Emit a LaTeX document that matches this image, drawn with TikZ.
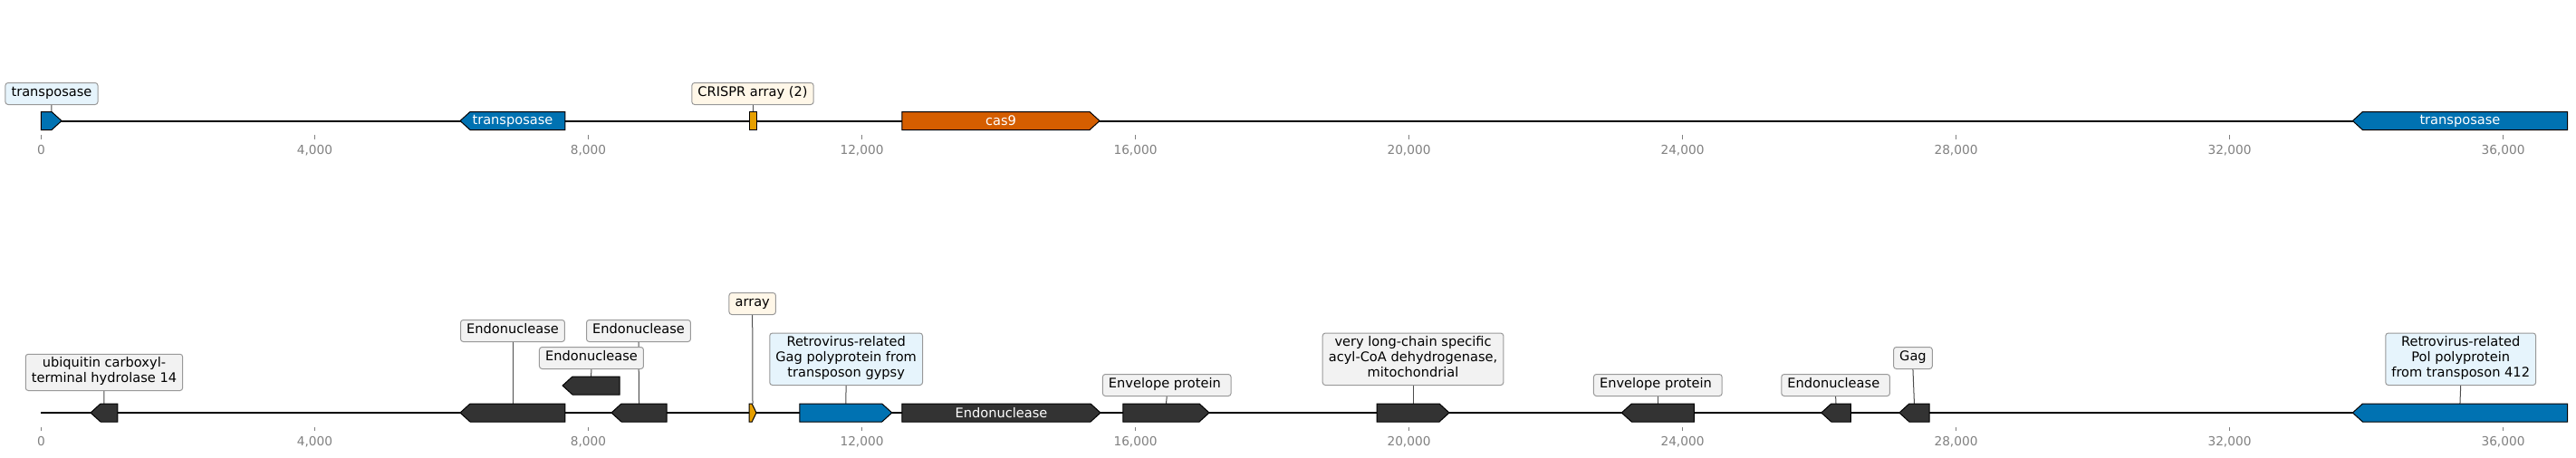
\documentclass[tikz,border=0pt]{standalone}
\usepackage{fontspec}
\setmainfont{DejaVu Sans}
\definecolor{genedark}{HTML}{333333}
\definecolor{geneblue}{HTML}{0072B2}
\definecolor{genered}{HTML}{D55E00}
\definecolor{geneorange}{HTML}{E69F00}
\definecolor{boxgrey}{HTML}{F2F2F2}
\definecolor{boxblue}{HTML}{E6F4FC}
\definecolor{boxcream}{HTML}{FFF7E8}
\newcommand{\genefont}{\fontsize{7.3}{8.6}\selectfont}
\newcommand{\tickfont}{\fontsize{6.85}{8}\selectfont}
\pgfdeclarelayer{bg}
\pgfsetlayers{bg,main}
% forward gene: name, start, end, y, colour, text
\newcommand{\genefwd}[6]{%
	\pgfmathsetmacro\gtip{#3-min(0.1457,0.6*(#3-#2))}%
	\filldraw[gene,fill=#5] (#2,#4-10) -- (\gtip,#4-10) -- (#3,#4) -- (\gtip,#4+10) -- (#2,#4+10) -- cycle;
	\coordinate (#1) at ({(#2+#3)/2},#4-10);
	\node[genetext] (#1t) at ({(#2+#3)/2},#4) {#6};}
% reverse gene
\newcommand{\generev}[6]{%
	\pgfmathsetmacro\gtip{#2+min(0.1457,0.6*(#3-#2))}%
	\filldraw[gene,fill=#5] (#2,#4) -- (\gtip,#4-10) -- (#3,#4-10) -- (#3,#4+10) -- (\gtip,#4+10) -- cycle;
	\coordinate (#1) at ({(#2+#3)/2},#4-10);
	\node[genetext] (#1t) at ({(#2+#3)/2},#4) {#6};}
\tikzset{
	gene/.style={draw=black, line width=0.5pt, line join=miter},
	genetext/.style={text=white, font=\genefont, inner sep=0pt},
	genetag/.style={draw=black!40, line width=0.5pt, rounded corners=1.5pt, fill=boxgrey,
		font=\genefont, align=center, inner xsep=3.3pt, inner ysep=1.7pt, anchor=south,
		execute at begin node=\strut, execute at end node=\strut},
	tagblue/.style={genetag, fill=boxblue},
	tagcream/.style={genetag, fill=boxcream},
	stem/.style={black!70, line width=0.5pt},
	trackline/.style={black, line width=1pt},
	axistick/.style={gray, line width=0.5pt},
	ticklabel/.style={text=gray, font=\tickfont, inner sep=0pt},
}
\begin{document}
\begin{tikzpicture}[x=37.75pt, y=-0.5pt]
	\useasboundingbox (-0.60265,0) rectangle (37.0662,505);

	% axes
	\draw[trackline] (0,133.5) -- (36.94,133.5);
	\draw[trackline] (0,456) -- (36.94,456);
	\foreach \k in {0,4,...,36} {
		\draw[axistick] (\k,149) -- (\k,154);
		\node[ticklabel] (tt\k) at (\k,166) {\ifnum\k=0 0\else\k,000\fi};
		\draw[axistick] (\k,472) -- (\k,476);
		\node[ticklabel] (bt\k) at (\k,488) {\ifnum\k=0 0\else\k,000\fi};
	}

	% top track
	\genefwd{trA}{0}{0.298}{133.5}{geneblue}{}
	\generev{trB}{6.126}{7.662}{133.5}{geneblue}{transposase}
	\filldraw[gene,fill=geneorange] (10.351,123.5) rectangle (10.457,143.5);
	\coordinate (crispr) at (10.404,123.5);
	\genefwd{cas9}{12.589}{15.477}{133.5}{genered}{cas9}
	\generev{trC}{33.80}{36.94}{133.5}{geneblue}{transposase}

	\node[tagblue] (t1) at (0.152,116) {transposase};
	\node[tagcream] (t2) at (10.404,116) {CRISPR array (2)};

	% bottom track
	\generev{ubq}{0.722}{1.119}{456}{genedark}{}
	\generev{endoA}{6.126}{7.662}{456}{genedark}{}
	\generev{endoB}{7.623}{8.457}{426}{genedark}{}
	\generev{endoC}{8.338}{9.146}{456}{genedark}{}
	\genefwd{arr}{10.351}{10.457}{456}{geneorange}{}
	\genefwd{gagA}{11.09}{12.44}{456}{geneblue}{}
	\genefwd{endoD}{12.589}{15.49}{456}{genedark}{Endonuclease}
	\genefwd{envA}{15.82}{17.08}{456}{genedark}{}
	\genefwd{vlc}{19.53}{20.59}{456}{genedark}{}
	\generev{envB}{23.11}{24.17}{456}{genedark}{}
	\generev{endoE}{26.03}{26.46}{456}{genedark}{}
	\generev{gagB}{27.17}{27.61}{456}{genedark}{}
	\generev{pol}{33.80}{36.94}{456}{geneblue}{}

	\node[genetag] (b1) at (0.92,432) {ubiquitin carboxyl-\\terminal hydrolase 14};
	\node[genetag] (b2) at (6.894,378) {Endonuclease};
	\node[genetag] (b3) at (8.046,408) {Endonuclease};
	\node[genetag] (b4) at (8.735,378) {Endonuclease};
	\node[tagcream] (b5) at (10.40,348) {array};
	\node[tagblue] (b6) at (11.77,426) {Retrovirus-related\\Gag polyprotein from\\transposon gypsy};
	\node[genetag] (b7) at (16.46,438) {Envelope protein\ };
	\node[genetag] (b8) at (20.06,426) {very long-chain specific\\acyl-CoA dehydrogenase,\\mitochondrial};
	\node[genetag] (b9) at (23.64,438) {Envelope protein\ };
	\node[genetag] (b10) at (26.24,438) {Endonuclease\ };
	\node[genetag] (b11) at (27.37,408) {Gag};
	\node[tagblue] (b12) at (35.38,426) {Retrovirus-related\\Pol polyprotein\\from transposon 412};

	% stems
	\begin{pgfonlayer}{bg}
		\draw[stem] (t1.south) -- (trA);
		\draw[stem] (t2.south) -- (crispr);
		\draw[stem] (b1.south) -- (ubq);
		\draw[stem] (b2.south) -- (endoA);
		\draw[stem] (b3.south) -- (endoB);
		\draw[stem] (b4.south) -- (endoC);
		\draw[stem] (b5.south) -- (arr);
		\draw[stem] (b6.south) -- (gagA);
		\draw[stem] (b7.south) -- (envA);
		\draw[stem] (b8.south) -- (vlc);
		\draw[stem] (b9.south) -- (envB);
		\draw[stem] (b10.south) -- (endoE);
		\draw[stem] (b11.south) -- (gagB);
		\draw[stem] (b12.south) -- (pol);
	\end{pgfonlayer}
\end{tikzpicture}
\end{document}
